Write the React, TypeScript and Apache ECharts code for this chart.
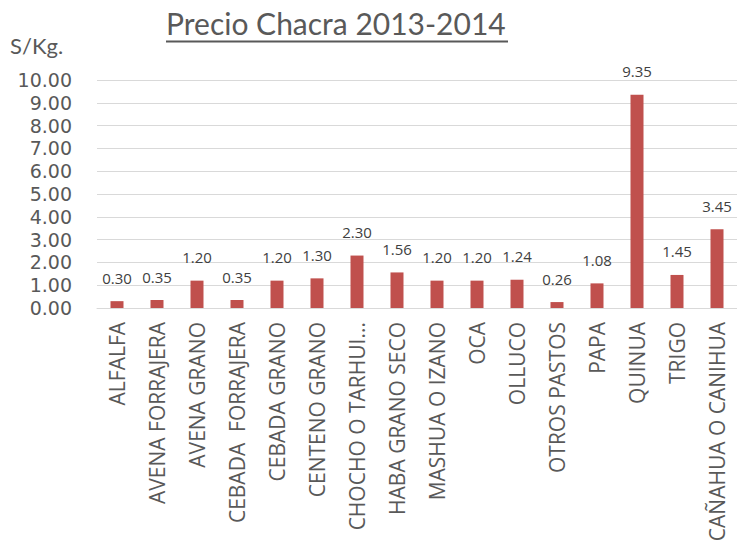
import React, { useEffect, useRef } from "react";
import * as echarts from "echarts";

const categories = [
  "ALFALFA",
  "AVENA FORRAJERA",
  "AVENA GRANO",
  "CEBADA  FORRAJERA",
  "CEBADA GRANO",
  "CENTENO GRANO",
  "CHOCHO O TARHUI...",
  "HABA GRANO SECO",
  "MASHUA O IZANO",
  "OCA",
  "OLLUCO",
  "OTROS PASTOS",
  "PAPA",
  "QUINUA",
  "TRIGO",
  "CAÑAHUA O CANIHUA",
];
const prices = [0.3, 0.35, 1.2, 0.35, 1.2, 1.3, 2.3, 1.56, 1.2, 1.2, 1.24, 0.26, 1.08, 9.35, 1.45, 3.45];
const yTicks = { min: 0, max: 10, interval: 1 };
const titleText = "Precio Chacra 2013-2014";
const unitText = "S/Kg.";

const TITLE_FONT = "Lato, 'Open Sans', sans-serif";
const FONT = "'Open Sans', 'Noto Sans', sans-serif";

export default function App() {
  const ref = useRef<HTMLDivElement>(null);
  useEffect(() => {
    if (!ref.current) return;
    const chart = echarts.init(ref.current, undefined, { renderer: "svg" });
    chart.setOption({
      animation: false,
      backgroundColor: "#ffffff",
      textStyle: { fontFamily: FONT },
      graphic: [
        {
          type: "text",
          left: 166,
          top: 8,
          style: { text: titleText, fontSize: 30, fill: "#595959", fontFamily: TITLE_FONT },
        },
        {
          type: "line",
          shape: { x1: 166, y1: 41.5, x2: 508, y2: 41.5 },
          style: { stroke: "#595959", lineWidth: 2 },
        },
        {
          type: "text",
          left: 10,
          top: 34,
          style: { text: unitText, fontSize: 22, fill: "#595959", fontFamily: TITLE_FONT },
        },
      ],
      grid: {
        left: 97,
        right: 0,
        top: 80,
        bottom: 242,
        containLabel: false,
        outerBoundsMode: "none",
      },
      xAxis: {
        type: "category",
        data: categories,
        axisLine: { show: true, lineStyle: { color: "#d9d9d9" } },
        axisTick: { show: false },
        axisLabel: {
          rotate: 90,
          interval: 0,
          fontSize: 21,
          lineHeight: 23,
          color: "#595959",
          margin: 14,
          fontFamily: FONT,
        },
      },
      yAxis: {
        type: "value",
        min: yTicks.min,
        max: yTicks.max,
        interval: yTicks.interval,
        axisLine: { show: false },
        axisTick: { show: false },
        splitLine: { lineStyle: { color: "#d9d9d9" } },
        axisLabel: {
          fontSize: 19,
          lineHeight: 19,
          color: "#595959",
          margin: 25,
          fontFamily: "'DejaVu Sans', 'Open Sans', sans-serif",
          formatter: (v: number) => v.toFixed(2),
        },
      },
      series: [
        {
          type: "bar",
          data: prices,
          barWidth: 13,
          itemStyle: { color: "#c0504d" },
          label: {
            show: true,
            position: "top",
            distance: 16,
            fontSize: 15,
            color: "#404040",
            fontFamily: FONT,
            formatter: (p: any) => Number(p.value).toFixed(2),
          },
        },
      ],
    });
    return () => chart.dispose();
  }, []);
  return <div ref={ref} style={{ width: 737, height: 550, position: "absolute", left: 0, top: 0 }} />;
}
